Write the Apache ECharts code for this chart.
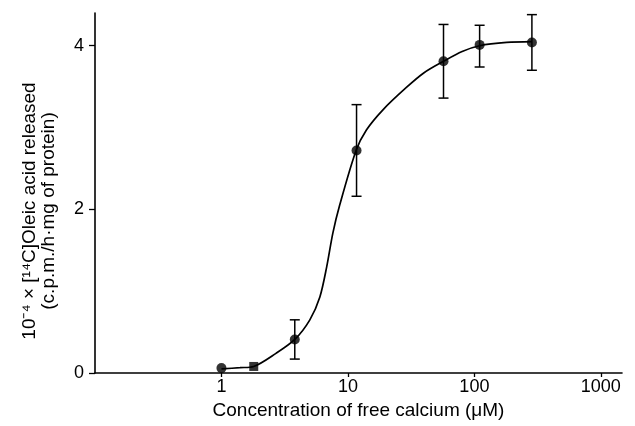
<!DOCTYPE html>
<html>
<head>
<meta charset="utf-8">
<script src="https://cdn.jsdelivr.net/npm/echarts@6/dist/echarts.min.js"></script>
<style>
  html, body { margin: 0; padding: 0; background: #fff; }
  #chart { width: 635px; height: 426px; }
</style>
</head>
<body>
<div id="chart"></div>
<script>
// measured points (free Ca2+ in uM, release x 10^-4 c.p.m./h/mg protein)
const conc = [1.0, 1.8, 3.8, 11.7, 57, 110, 285];
const release = [0.06, 0.08, 0.41, 2.72, 3.81, 4.01, 4.04];
const errLow = [null, null, 0.17, 2.16, 3.36, 3.74, 3.70];
const errHigh = [null, null, 0.65, 3.28, 4.26, 4.25, 4.38];
const markers = ['circle', 'rect', 'circle', 'circle', 'circle', 'circle', 'circle'];

// fitted curve
const curveX = [1.0, 1.4, 1.8, 2.7, 3.8, 5.0, 6.0, 6.8, 7.6, 8.6, 11.6, 14, 19, 29, 40, 57, 80, 110, 180, 285];
const curveY = [0.05, 0.065, 0.08, 0.24, 0.41, 0.65, 0.93, 1.30, 1.71, 2.05, 2.72, 2.97, 3.22, 3.49, 3.67, 3.81, 3.93, 4.0, 4.04, 4.05];

const xTicks = [1, 10, 100, 1000];
const yTicks = [0, 2, 4];

const chart = echarts.init(document.getElementById('chart'));
const font = '"Liberation Sans", Arial, sans-serif';
const ink = '#000';

const points = conc.map((c, i) => ({ value: [c, release[i]], symbol: markers[i], symbolSize: markers[i] === 'rect' ? 9 : 10 }));
const bars = conc.map((c, i) => [c, errLow[i], errHigh[i]]).filter(d => d[1] !== null);

chart.setOption({
  animation: false,
  backgroundColor: '#fff',
  grid: { left: 95, right: 13, top: 13, bottom: 53 },
  xAxis: {
    type: 'log',
    logBase: 10,
    min: 0.1,
    max: 1470,
    name: 'Concentration of free calcium (μM)',
    nameLocation: 'middle',
    nameGap: 27,
    nameTextStyle: { fontFamily: font, fontSize: 19, color: ink },
    axisLine: { onZero: false, lineStyle: { color: ink, width: 1.6 } },
    axisTick: { length: 4, customValues: xTicks, lineStyle: { color: ink, width: 1.3 } },
    axisLabel: { customValues: xTicks, margin: 5, fontFamily: font, fontSize: 18, color: ink, formatter: v => String(Math.round(v)) },
    minorTick: { show: false },
    splitLine: { show: false }
  },
  yAxis: {
    type: 'value',
    min: 0,
    max: 4.4,
    name: '10⁻⁴ × [¹⁴C]Oleic acid released\n(c.p.m./h·mg of protein)',
    nameLocation: 'middle',
    nameRotate: 90,
    nameGap: 37,
    nameTextStyle: { fontFamily: font, fontSize: 19, lineHeight: 19, color: ink, padding: [0, 36, 0, 0] },
    axisLine: { lineStyle: { color: ink, width: 1.6 } },
    axisTick: { length: 6, customValues: yTicks, lineStyle: { color: ink, width: 1.3 } },
    axisLabel: { customValues: yTicks, margin: 11, fontFamily: font, fontSize: 18, color: ink },
    splitLine: { show: false }
  },
  series: [
    {
      type: 'line',
      data: curveX.map((x, i) => [x, curveY[i]]),
      smooth: 0.3,
      showSymbol: false,
      lineStyle: { color: ink, width: 1.7 },
      z: 2
    },
    {
      type: 'custom',
      data: bars,
      renderItem: (params, api) => {
        const top = api.coord([api.value(0), api.value(2)]);
        const bot = api.coord([api.value(0), api.value(1)]);
        const w = 5;
        const st = { stroke: ink, lineWidth: 1.5 };
        return {
          type: 'group',
          children: [
            { type: 'line', shape: { x1: top[0], y1: top[1], x2: bot[0], y2: bot[1] }, style: st },
            { type: 'line', shape: { x1: top[0] - w, y1: top[1], x2: top[0] + w, y2: top[1] }, style: st },
            { type: 'line', shape: { x1: bot[0] - w, y1: bot[1], x2: bot[0] + w, y2: bot[1] }, style: st }
          ]
        };
      },
      z: 3
    },
    {
      type: 'scatter',
      data: points,
      itemStyle: { color: ink },
      z: 4
    }
  ]
});
</script>
</body>
</html>
